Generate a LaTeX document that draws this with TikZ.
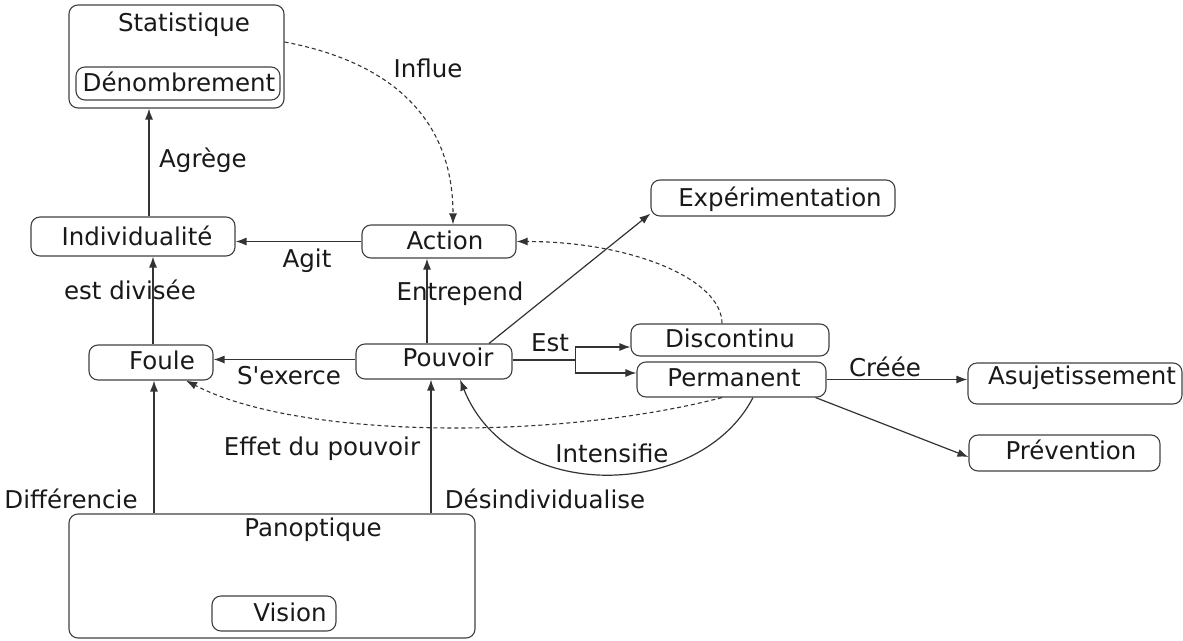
\documentclass[tikz,border=0pt]{standalone}
\usepackage{fontspec}
\setmainfont{DejaVu Sans}[Ligatures=TeXOff]
\usetikzlibrary{arrows.meta,calc}
\begin{document}
\begin{tikzpicture}[x=1pt,y=-1pt,
  box/.style={draw=black!75, line width=1.1pt, rounded corners=9pt, inner sep=0pt},
  txt/.style={inner sep=0pt, text height=18pt, text depth=0pt, font=\fontsize{24.5}{28}\selectfont, text=black!90},
  arr/.style={draw=black!80, line width=1.2pt, -{Latex[length=11pt,width=8pt]}},
  plain/.style={draw=black!80, line width=1.2pt},
  dsh/.style={draw=black!80, line width=1.1pt, dash pattern=on 4pt off 3pt, -{Latex[length=11pt,width=8pt]}}]
\useasboundingbox (0,0) rectangle (1183,640);
% boxes
\node[box, minimum width=215pt, minimum height=103pt] (stat) at (176.5,56.5) {};
\node[box, minimum width=204pt, minimum height=33pt] (denom) at (178,83.5) {};
\node[box, minimum width=204pt, minimum height=39pt] (ind) at (133,236.5) {};
\node[box, minimum width=154pt, minimum height=33pt] (action) at (439,241.5) {};
\node[box, minimum width=244pt, minimum height=36pt] (exp) at (773,198) {};
\node[box, minimum width=198pt, minimum height=32pt] (disc) at (730,340) {};
\node[box, minimum width=189pt, minimum height=35pt] (perm) at (731.5,379.5) {};
\node[box, minimum width=156pt, minimum height=35pt] (pouv) at (434,361.5) {};
\node[box, minimum width=124pt, minimum height=35pt] (foule) at (151,362.5) {};
\node[box, minimum width=214pt, minimum height=41pt] (asuj) at (1075,383.5) {};
\node[box, minimum width=191pt, minimum height=36pt] (prev) at (1064.5,453) {};
\node[box, minimum width=406pt, minimum height=124pt] (pano) at (272,576) {};
\node[box, minimum width=124pt, minimum height=35pt] (vision) at (274,613.5) {};
% box texts
\node[txt] (tstat) at (184,22) {Statistique};
\node[txt] (tdenom) at (179,82) {Dénombrement};
\node[txt] (tind) at (137,236) {Individualité};
\node[txt] (taction) at (445,240) {Action};
\node[txt] (texp) at (780,197) {Expérimentation};
\node[txt] (tdisc) at (730,338) {Discontinu};
\node[txt] (tperm) at (734,377) {Permanent};
\node[txt] (tpouv) at (448,357) {Pouvoir};
\node[txt] (tfoule) at (162,360) {Foule};
\node[txt] (tasuj) at (1082,375) {Asujetissement};
\node[txt] (tprev) at (1071,450) {Prévention};
\node[txt] (tpano) at (313,527) {Panoptique};
\node[txt] (tvision) at (290,612) {Vision};
% edge labels
\node[txt] (lagrege) at (203,158) {Agrège};
\node[txt] (lagit) at (307,258) {Agit};
\node[txt] (ldiv) at (130,290) {est divisée};
\node[txt] (lexerce) at (289,375) {S'exerce};
\node[txt] (lentre) at (460,291) {Entrepend};
\node[txt] (lest) at (550,342) {Est};
\node[txt] (lcreee) at (885,367) {Créée};
\node[txt] (linten) at (612,453) {Intensifie};
\node[txt] (leffet) at (322,446) {Effet du pouvoir};
\node[txt] (linflue) at (428,68) {Influe};
\node[txt] (ldiff) at (71,499) {Différencie};
\node[txt] (ldesind) at (545,499) {Désindividualise};
% connectors
\draw[arr] ([xshift=16pt]ind.north) -- ([xshift=16pt]ind.north |- stat.south);
\draw[arr] ([xshift=2pt]foule.north) -- ([xshift=2pt]foule.north |- ind.south);
\draw[arr] (action.west) -- (action.west -| ind.east);
\draw[arr] ([xshift=-7pt]pouv.north) -- ([xshift=-7pt]pouv.north |- action.south);
\draw[arr] ([yshift=2pt]pouv.west) -- ([yshift=2pt]pouv.west -| foule.east);
\draw[arr] ([xshift=-118pt]pano.north) -- ([xshift=-118pt]pano.north |- foule.south);
\draw[arr] ([xshift=159pt]pano.north) -- ([xshift=159pt]pano.north |- pouv.south);
\draw[arr] ([xshift=55pt]pouv.north) -- ([yshift=3pt]exp.south west);
\coordinate (split) at ($([yshift=1.5pt]pouv.east)+(63,0)$);
\draw[plain] ([yshift=1.5pt]pouv.east) -- (split);
\draw[arr] (split) |- ([yshift=-7pt]disc.west);
\draw[arr] (split) |- ([yshift=6.5pt]perm.west);
\draw[arr] (perm.east) -- (perm.east -| asuj.west);
\draw[arr] ([xshift=-11pt]perm.south east) -- ([yshift=-4pt]prev.west);
\draw[arr] ([xshift=21.5pt]perm.south) .. controls (700,500) and (510,505) .. ([xshift=26pt]pouv.south);
\draw[dsh] ([xshift=-9.5pt]perm.south) .. controls (560,440) and (300,440) .. ([xshift=35pt]foule.south);
\draw[dsh] ([yshift=14.5pt]stat.east) .. controls (380,60) and (453,110) .. ([xshift=14pt]action.north);
\draw[dsh] ([xshift=-8pt]disc.north) .. controls (722,279) and (631,241.5) .. (action.east);
\end{tikzpicture}
\end{document}
